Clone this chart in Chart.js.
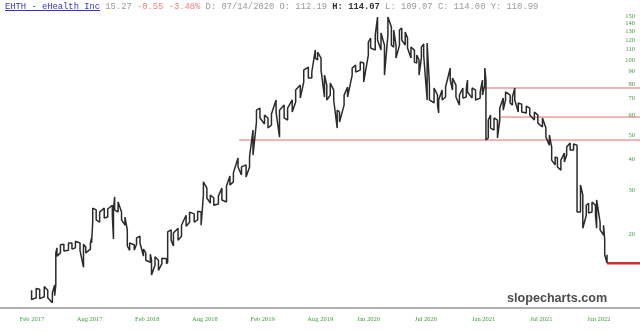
<!DOCTYPE html>
<html>
<head>
<meta charset="utf-8">
<script src="https://cdn.jsdelivr.net/npm/chart.js@4"></script>
<style>
  html, body { margin: 0; padding: 0; background: #fff; }
  #wrap { position: relative; width: 640px; height: 331px; overflow: hidden; }
  #hdr { position: absolute; left: 5px; top: 2px; font: 8.8px "Liberation Mono", "Courier New", monospace; line-height: 10px; color: #9a9a9a; white-space: pre; z-index: 2; }
  #hdr .tk { color: #3333cc; text-decoration: underline; }
  #hdr .dn { color: #f08080; }
  #hdr .b { color: #333; font-weight: bold; }
  #mark { position: absolute; left: 507px; top: 292px; font: bold 12.6px "Liberation Sans", Arial, sans-serif; line-height: 13px; color: #4d4d4d; }
</style>
</head>
<body>
<div id="wrap">
  <canvas id="c" width="640" height="331"></canvas>
  <div id="hdr"><span class="tk">EHTH - eHealth Inc</span> 15.27 <span class="dn">-0.55 -3.48%</span> D: 07/14/2020 O: 112.19 <span class="b">H: 114.07</span> L: 109.07 C: 114.00 Y: 110.99</div>
  <div id="mark">slopecharts.com</div>
</div>
<script>
// dates as decimal years, price range of each stretch
const dates = [
  2017.08, 2017.12, 2017.15, 2017.19, 2017.22, 2017.26, 2017.28, 2017.29, 2017.30, 2017.33,
  2017.36, 2017.40, 2017.43, 2017.46, 2017.50, 2017.53, 2017.55, 2017.59, 2017.60, 2017.61,
  2017.64, 2017.67, 2017.71, 2017.74, 2017.78, 2017.79, 2017.80, 2017.83, 2017.86, 2017.89,
  2017.91, 2017.93, 2017.97, 2017.99,
  2018.02, 2018.05, 2018.07, 2018.11, 2018.12, 2018.15, 2018.18, 2018.21, 2018.25, 2018.26,
  2018.29, 2018.31, 2018.35, 2018.38, 2018.42, 2018.45, 2018.49, 2018.52, 2018.55, 2018.57,
  2018.60, 2018.63, 2018.66, 2018.70, 2018.73, 2018.77, 2018.80, 2018.83, 2018.87, 2018.90,
  2018.94, 2018.97,
  2019.00, 2019.03, 2019.06, 2019.10, 2019.13, 2019.16, 2019.20, 2019.23, 2019.27, 2019.30,
  2019.34, 2019.37, 2019.41, 2019.44, 2019.48, 2019.51, 2019.54, 2019.56, 2019.59, 2019.62,
  2019.64, 2019.67, 2019.70, 2019.73, 2019.75, 2019.79, 2019.82, 2019.86, 2019.89, 2019.93,
  2019.96,
  2020.00, 2020.02, 2020.06, 2020.08, 2020.11, 2020.14, 2020.17, 2020.20, 2020.22, 2020.24,
  2020.27, 2020.29, 2020.32, 2020.34, 2020.37, 2020.40, 2020.42, 2020.44, 2020.46, 2020.48,
  2020.51, 2020.53, 2020.57, 2020.60, 2020.61, 2020.64, 2020.67, 2020.71, 2020.73, 2020.76,
  2020.79, 2020.82, 2020.85, 2020.86, 2020.90, 2020.93, 2020.97, 2020.99,
  2021.01, 2021.02, 2021.04, 2021.06, 2021.09, 2021.12, 2021.14, 2021.17, 2021.19, 2021.23,
  2021.25, 2021.27, 2021.30, 2021.33, 2021.37, 2021.40, 2021.44, 2021.47, 2021.51, 2021.54,
  2021.57, 2021.59, 2021.62, 2021.64, 2021.67, 2021.70, 2021.72, 2021.75, 2021.78, 2021.81,
  2021.84, 2021.86, 2021.89, 2021.91, 2021.94, 2021.97, 2021.98,
  2022.01, 2022.04, 2022.05, 2022.07
];
const highs = [
  11.9, 12.1, 12.0, 12.3, 11.9, 11.6, 12.5, 16.8, 17.6, 18.1,
  18.2, 18.4, 18.4, 18.7, 18.4, 18.2, 17.7, 18.4, 19.3, 25.4,
  25.0, 24.5, 25.4, 25.2, 26.1, 25.0, 28.2, 26.9, 24.5, 23.4,
  20.8, 18.4, 18.1, 19.3,
  19.6, 17.4, 16.8, 16.6, 15.7, 16.2, 15.7, 16.0, 15.9, 20.4,
  20.8, 20.2, 21.1, 21.7, 23.8, 24.5, 24.1, 24.7, 24.5, 32.4,
  30.6, 28.7, 27.9, 28.4, 30.6, 31.2, 34.2, 35.2, 40.4, 37.2,
  37.9, 40.8,
  52.3, 62.9, 64.1, 60.1, 58.5, 60.7, 69.1, 62.9, 65.9, 64.1,
  69.1, 75.7, 79.3, 91.1, 93.7, 89.5, 109.6, 107.6, 101.8, 87.0,
  79.3, 80.8, 75.7, 62.9, 61.8, 72.3, 77.9, 92.8, 95.4, 98.1,
  97.2,
  118.1, 122.5, 125.9, 148.8, 128.3, 114.8, 148.8, 135.6, 131.9, 114.8,
  131.9, 134.4, 129.5, 122.5, 112.7, 109.6, 104.7, 100.0, 112.7, 115.9,
  117.0, 79.3, 77.2, 72.3, 69.1, 75.7, 77.9, 92.8, 84.6, 79.3,
  72.3, 77.2, 77.2, 83.1, 77.2, 75.7, 74.4, 83.1,
  92.8, 83.1, 57.4, 60.1, 58.5, 57.4, 64.1, 70.3, 74.4, 72.3,
  71.0, 77.2, 67.2, 66.5, 65.3, 64.1, 61.8, 60.1, 58.5, 53.3,
  50.0, 44.7, 40.8, 40.4, 39.6, 42.3, 44.7, 46.4, 46.0, 45.5,
  31.5, 28.7, 26.1, 26.6, 26.9, 26.1, 27.4,
  22.3, 21.7, 18.9, 16.5
];
const lows = [
  10.9, 11.1, 11.0, 11.2, 11.1, 10.6, 11.3, 12.5, 16.3, 16.8,
  17.1, 17.2, 17.4, 17.6, 17.2, 14.7, 16.8, 17.4, 18.4, 22.3,
  22.8, 22.3, 23.2, 23.4, 23.8, 19.1, 25.0, 24.5, 22.8, 21.7,
  17.9, 17.2, 17.2, 18.2,
  18.4, 16.3, 15.7, 15.4, 13.7, 15.0, 14.3, 15.2, 15.2, 15.4,
  18.9, 17.9, 18.9, 19.6, 21.5, 22.3, 22.3, 22.8, 21.7, 28.7,
  27.9, 26.6, 26.1, 26.4, 27.4, 26.9, 31.5, 32.4, 37.2, 34.5,
  33.9, 37.2,
  41.5, 56.3, 58.5, 55.3, 53.3, 54.8, 61.8, 49.0, 58.5, 57.4,
  61.8, 67.8, 70.3, 81.6, 84.6, 84.6, 101.8, 100.0, 91.1, 71.0,
  69.1, 72.3, 69.1, 53.3, 56.3, 65.9, 71.0, 87.0, 89.5, 91.1,
  81.6,
  104.7, 111.7, 109.6, 120.3, 109.6, 87.0, 125.9, 114.8, 112.7, 101.8,
  114.8, 120.3, 114.8, 111.7, 101.8, 98.1, 97.2, 87.0, 101.8, 104.7,
  69.1, 69.1, 67.2, 65.9, 61.2, 69.1, 71.0, 83.1, 75.7, 71.0,
  65.9, 70.3, 71.0, 74.4, 70.3, 69.1, 70.3, 72.3,
  79.3, 47.7, 48.6, 53.3, 52.3, 48.6, 57.4, 62.9, 69.1, 67.2,
  65.9, 69.1, 61.8, 61.8, 61.2, 60.1, 57.4, 55.8, 53.8, 49.0,
  45.5, 39.6, 37.9, 37.2, 36.1, 38.9, 41.5, 43.5, 43.5, 24.5,
  24.5, 21.1, 23.8, 24.3, 24.5, 23.8, 21.1,
  20.8, 19.8, 16.5, 15.3
];

// horizontal levels drawn on the chart
const levelPrices = [47.7, 59.0, 77.2];
const levelStarts = [2018.88, 2021.15, 2021.01];
const lastPrice = 15.27;

const tickDates = [2017.083, 2017.583, 2018.083, 2018.583, 2019.083, 2019.583, 2020.0, 2020.5, 2021.0, 2021.5, 2022.0];
const tickLabels = ["Feb 2017", "Aug 2017", "Feb 2018", "Aug 2018", "Feb 2019", "Aug 2019", "Jan 2020", "Jul 2020", "Jan 2021", "Jul 2021", "Jan 2022"];
const priceTicks = [20, 30, 40, 50, 60, 70, 80, 90, 100, 110, 120, 130, 140, 150];

const X_MIN = 2016.806, X_MAX = 2022.356;

// bars: run down each range, then over to the next one
const pricePath = [];
dates.forEach((d, i) => {
  if (i % 2 === 0) {
    pricePath.push({ x: d, y: highs[i] }, { x: d, y: lows[i] });
  } else {
    pricePath.push({ x: d, y: lows[i] }, { x: d, y: highs[i] });
  }
});

const levelSets = levelPrices.map((p, i) => ({
  data: [{ x: levelStarts[i], y: p }, { x: X_MAX, y: p }],
  borderColor: "#e46a6a",
  borderWidth: 1
}));

new Chart(document.getElementById("c"), {
  type: "line",
  data: {
    datasets: [
      { data: pricePath, borderColor: "#2b2b2b", borderWidth: 1.5 },
      ...levelSets,
      {
        data: [{ x: dates[dates.length - 1], y: lastPrice }, { x: X_MAX, y: lastPrice }],
        borderColor: "#cc3030",
        borderWidth: 2.5
      }
    ]
  },
  options: {
    responsive: false,
    animation: false,
    events: [],
    layout: { padding: 0 },
    elements: { point: { radius: 0 }, line: { tension: 0, borderJoinStyle: "bevel" } },
    plugins: { legend: { display: false }, tooltip: { enabled: false } },
    scales: {
      x: {
        type: "linear",
        min: X_MIN,
        max: X_MAX,
        grid: { display: false, drawTicks: false },
        border: { display: true, color: "#b0b0b0", width: 2 },
        afterBuildTicks: (s) => { s.ticks = tickDates.map((v) => ({ value: v })); },
        afterFit: (s) => { s.height = 23; },
        ticks: {
          autoSkip: false,
          maxRotation: 0,
          padding: 7,
          color: "#3d9b3d",
          font: { family: "Liberation Serif", size: 6.5 },
          callback: (v, i) => tickLabels[i]
        }
      },
      y: {
        type: "logarithmic",
        position: "right",
        min: 10.09,
        max: 174.2,
        grid: { display: false, drawTicks: false },
        border: { display: false },
        afterBuildTicks: (s) => { s.ticks = priceTicks.map((v) => ({ value: v })); },
        afterFit: (s) => { s.width = 0; },
        ticks: {
          mirror: true,
          padding: -5,
          color: "#3d9b3d",
          font: { family: "Liberation Serif", size: 6.5 },
          callback: (v) => String(v)
        }
      }
    }
  }
});
</script>
</body>
</html>
